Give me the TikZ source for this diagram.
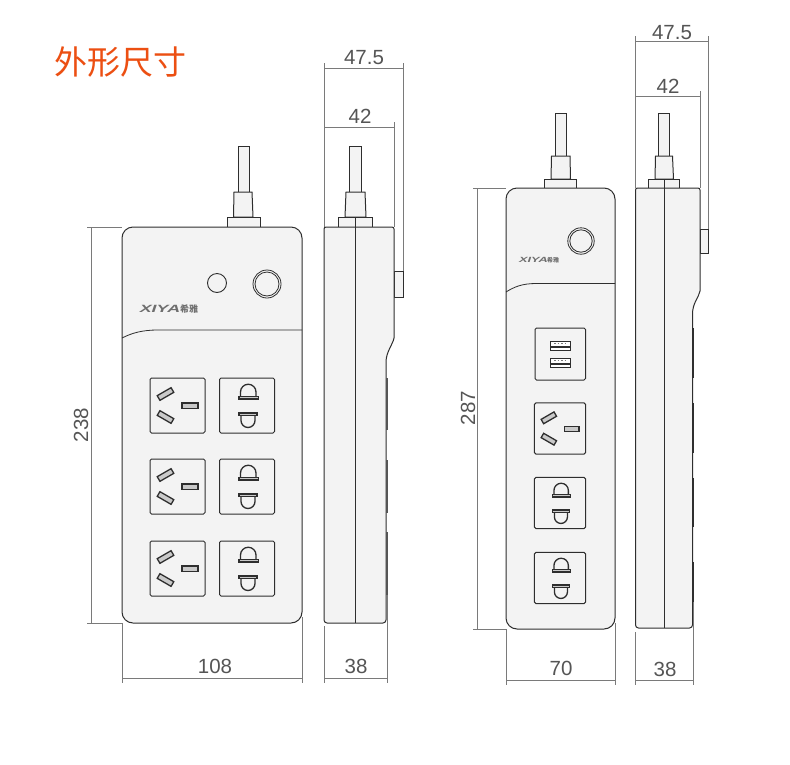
\documentclass[tikz,border=0pt]{standalone}
\usepackage{fontspec}
\setmainfont{Liberation Sans}
\newfontfamily\cjk{Noto Sans CJK SC}
\definecolor{body}{HTML}{F3F3F3}
\definecolor{ink}{HTML}{2E2E2E}
\definecolor{dimc}{HTML}{7A7A7A}
\definecolor{dimt}{HTML}{555555}
\definecolor{orng}{HTML}{EC4F12}
\definecolor{logoc}{HTML}{6E6E6E}
\definecolor{pinc}{HTML}{C9C9C9}
\tikzset{
  outl/.style={draw=ink,line width=1pt,fill=body},
  thin line/.style={draw=ink,line width=.8pt},
  dimline/.style={draw=dimc,line width=.8pt},
  dimlabel/.style={text=dimt,font=\fontsize{20.5}{22}\selectfont,inner sep=0pt},
  logotext/.style={text=logoc,inner sep=0pt},
  pinshape/.style={draw=ink,line width=1.3pt,fill=pinc},
  holeshape/.style={draw=ink,line width=1.3pt,fill=body},
  pics/threepin/.style={code={
    \draw[outl,rounded corners=1.5pt] (-27.5,-27.5) rectangle (27.5,27.5);
    \draw[pinshape] (4.5,-2.5) rectangle (20.5,3);
    \draw[pinshape,rotate around={30:(-12,-11.5)}] (-20,-14.2) rectangle (-4,-8.8);
    \draw[pinshape,rotate around={-30:(-12,11.5)}] (-20,8.8) rectangle (-4,14.2);
  }},
  pics/twopin/.style={code={
    \draw[outl,rounded corners=1.5pt] (-27.5,-27.5) rectangle (27.5,27.5);
    \draw[holeshape] (-6.5,-8) -- (-6.5,-13.5) arc[start angle=180,end angle=360,radius=7.75] -- (9,-8);
    \draw[pinshape] (-8,-9) rectangle (11.5,-6.5);
    \draw[holeshape] (-6,9) -- (-6,15) arc[start angle=180,end angle=0,radius=7] -- (8,9);
    \draw[pinshape] (-8,7.5) rectangle (10,10);
  }},
}
\begin{document}
\begin{tikzpicture}[x=1pt,y=-1pt]
\useasboundingbox (0,0) rectangle (790,764);
\fill[white] (0,0) rectangle (790,764);
% title
\node[text=orng,inner sep=0pt,font=\cjk\fontsize{33}{35}\selectfont] (title) at (120,62) {外形尺寸};

% ---- left front
\draw[dimline] (87,227) -- (122,227) (87,623) -- (122,623) (91,227) -- (91,623);
\draw[outl] (238,146) rectangle (249.5,192);
\draw[outl] (234,192) -- (233.5,217) -- (253,217) -- (252,192) -- cycle;
\draw[outl] (227,217) rectangle (260.5,227);
\draw[outl,rounded corners=11pt] (122,227) rectangle (302,623);
\draw[thin line] (122,338) .. controls (132,333) and (142,330) .. (158,330) -- (302,330);
\draw[draw=ink,line width=.9pt] (217,283) circle[radius=9.5];
\draw[draw=ink,line width=.8pt] (267,284) circle[radius=14];
\draw[draw=ink,line width=.8pt] (267,284) circle[radius=12];
\node[logotext,font=\bfseries\itshape\fontsize{10.5}{11}\selectfont,xscale=1.7] (logoa) at (160,309) {XIYA};
\node[logotext,font=\cjk\bfseries\fontsize{9}{10}\selectfont] (logob) at (189,309) {希雅};
\foreach \y in {405.5,486.5,568.5} {
  \pic at (177.5,\y) {threepin};
  \pic at (247,\y) {twopin};
}
\node[dimlabel,rotate=90] (h238) at (81,425) {238};
\draw[dimline] (122,623) -- (122,683) (302,617) -- (302,683) (122,678) -- (302,678);
\node[dimlabel] (w108) at (215,666) {108};

% ---- left side
\draw[dimline] (324,63) -- (324,227) (403,63) -- (403,271) (324,68) -- (403,68);
\draw[dimline] (394,122) -- (394,227) (324,127) -- (394,127);
\node[dimlabel] (d475a) at (364,58) {47.5};
\node[dimlabel] (d42a) at (360,116) {42};
\draw[outl] (349,146) rectangle (361,192);
\draw[outl] (346,192) -- (345,217) -- (366,217) -- (365,192) -- cycle;
\draw[outl] (338.5,217) rectangle (372,227);
\draw[outl] (394,271) rectangle (403.5,297);
\draw[outl] (326,227) -- (392,227) arc[start angle=-90,end angle=0,radius=2] -- (394,338)
  .. controls (393,344) and (386,352) .. (386,362) -- (386,620) arc[start angle=0,end angle=90,radius=3]
  -- (327,623) arc[start angle=90,end angle=180,radius=3] -- (324,229) arc[start angle=180,end angle=270,radius=2] -- cycle;
\draw[thin line] (355.5,217) -- (355.5,623);
\draw[draw=dimt,line width=2pt] (386.7,378) -- (386.7,430) (386.7,460) -- (386.7,513) (386.7,532) -- (386.7,595);
\draw[dimline] (324,626) -- (324,683) (387.3,595) -- (387.3,683) (324,678) -- (387.3,678);
\node[dimlabel] (w38a) at (356,666) {38};

% ---- right front
\draw[dimline] (473,188) -- (506,188) (473,629) -- (506,629) (477,188) -- (477,629);
\draw[outl] (555,113) rectangle (566,156);
\draw[outl] (551.5,156) -- (551,179) -- (570.5,179) -- (570,156) -- cycle;
\draw[outl] (544,179) rectangle (576,188);
\draw[outl,rounded corners=11pt] (506,188) rectangle (615,629);
\draw[thin line] (506,292) .. controls (514,287) and (522,283.5) .. (536,283.5) -- (615,283.5);
\draw[draw=ink,line width=.8pt] (581,241) circle[radius=13.2];
\draw[draw=ink,line width=.8pt] (581,241) circle[radius=11.2];
\node[logotext,font=\bfseries\itshape\fontsize{7.5}{8}\selectfont,xscale=1.7] (logoc) at (533.5,260) {XIYA};
\node[logotext,font=\cjk\bfseries\fontsize{6}{7}\selectfont] (logod) at (553,260) {希雅};
\draw[outl,rounded corners=1.5pt] (535,328) rectangle (585.5,380);
\foreach \y in {345.5,362.5} {
  \draw[draw=ink,line width=.9pt,fill=white] (550.7,\y-4.5) rectangle (570,\y+4.5);
  \fill[ink] (551.2,\y+.5) rectangle (569.5,\y+2.8);
  \draw[draw=dimc,line width=.6pt,dash pattern=on 1.5pt off 2pt] (554,\y-2) -- (567,\y-2);
}
\pic[scale=.93] at (560,428.5) {threepin};
\pic[scale=.93] at (560,503) {twopin};
\pic[scale=.93] at (560,578) {twopin};
\node[dimlabel,rotate=90] (h287) at (468,408) {287};
\draw[dimline] (506,629) -- (506,685) (615,623) -- (615,685) (506,680) -- (615,680);
\node[dimlabel] (w70) at (561,668) {70};

% ---- right side
\draw[dimline] (635.5,36) -- (635.5,188) (708.5,36) -- (708.5,229) (635.5,41) -- (708.5,41);
\draw[dimline] (700,91) -- (700,188) (635.5,96) -- (700,96);
\node[dimlabel] (d475b) at (672,33) {47.5};
\node[dimlabel] (d42b) at (668,86) {42};
\draw[outl] (658,113) rectangle (669.5,156);
\draw[outl] (655.5,156) -- (655,179) -- (673.5,179) -- (672.5,156) -- cycle;
\draw[outl] (648.5,179) rectangle (679.5,188);
\draw[outl] (700,229) rectangle (708.5,253);
\draw[outl] (637.5,188) -- (698,188) arc[start angle=-90,end angle=0,radius=2] -- (700,291)
  .. controls (699,297) and (692.5,303) .. (692.5,314) -- (692.5,625) arc[start angle=0,end angle=90,radius=3]
  -- (638.5,628) arc[start angle=90,end angle=180,radius=3] -- (635.5,190) arc[start angle=180,end angle=270,radius=2] -- cycle;
\draw[thin line] (664,179) -- (664,628);
\draw[draw=ink,line width=2pt] (693.3,328) -- (693.3,378) (693.3,403) -- (693.3,453) (693.3,478) -- (693.3,527) (693.3,562) -- (693.3,602);
\draw[dimline] (635.5,632) -- (635.5,685) (693.6,602) -- (693.6,685) (635.5,680) -- (693.6,680);
\node[dimlabel] (w38b) at (665,669) {38};
\end{tikzpicture}
\end{document}
